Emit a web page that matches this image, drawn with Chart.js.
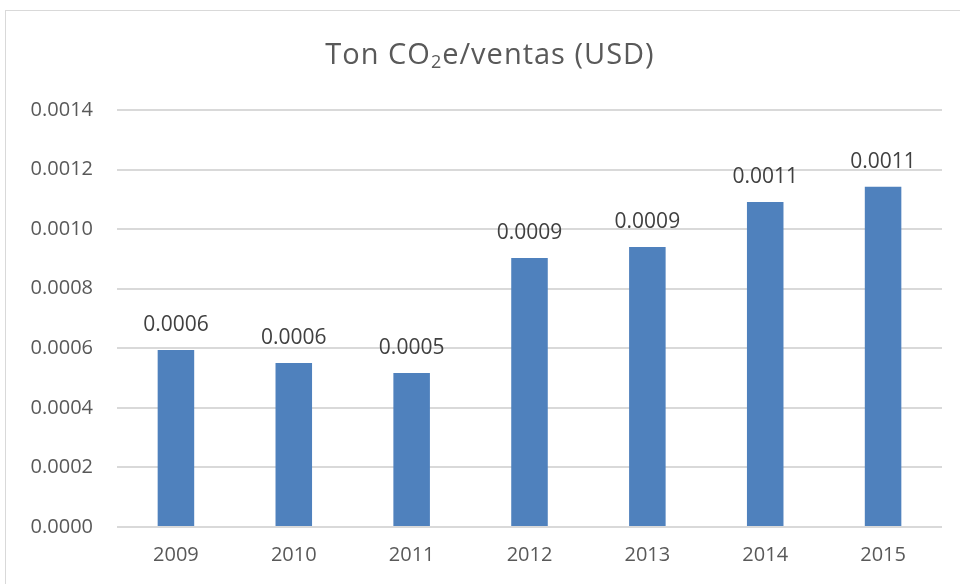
<!DOCTYPE html>
<html>
<head>
<meta charset="utf-8">
<script src="https://cdn.jsdelivr.net/npm/chart.js@4"></script>
<style>
html,body{margin:0;padding:0;background:#fff;overflow:hidden;}
#wrap{position:relative;width:960px;height:584px;}
#frame{position:absolute;left:5px;top:10px;width:1000px;height:700px;border:1px solid #d9d9d9;box-sizing:border-box;}
canvas{position:absolute;left:0;top:0;}
</style>
</head>
<body>
<div id="wrap">
<div id="frame"></div>
<canvas id="c" width="960" height="584"></canvas>
</div>
<script>
// Title parts: [text, isSubscript]
const titleParts = [['Ton CO', false], ['2', true], ['e/ventas (USD)', false]];
const categories = ['2009','2010','2011','2012','2013','2014','2015'];
const values = [0.000594, 0.000551, 0.000517, 0.000903, 0.000940, 0.001091, 0.001142];
const yMin = 0;
const yMax = 0.0014;
const yStep = 0.0002;

const FONT = "'Open Sans', 'DejaVu Sans', sans-serif";

const dataLabels = {
  id: 'dataLabels',
  afterDatasetsDraw(chart) {
    const ctx = chart.ctx;
    const meta = chart.getDatasetMeta(0);
    ctx.save();
    ctx.font = '21px ' + FONT;
    ctx.fillStyle = '#404040';
    ctx.textAlign = 'center';
    ctx.textBaseline = 'alphabetic';
    meta.data.forEach((bar, i) => {
      const v = chart.data.datasets[0].data[i];
      ctx.fillText(v.toFixed(4), bar.x, bar.y - 19);
    });
    ctx.restore();
  }
};

const richTitle = {
  id: 'richTitle',
  afterDraw(chart) {
    const ctx = chart.ctx;
    ctx.save();
    ctx.fillStyle = '#595959';
    ctx.textBaseline = 'alphabetic';
    ctx.textAlign = 'left';
    const mainFont = '29px ' + FONT;
    const subFont = '18px ' + FONT;
    const spacing = 1;
    const widths = titleParts.map(([t, sub]) => {
      ctx.font = sub ? subFont : mainFont;
      return ctx.measureText(t).width + t.length * spacing;
    });
    const total = widths.reduce((a, b) => a + b, 0);
    let x = 490 - total / 2;
    const baseline = 64;
    titleParts.forEach(([t, sub], i) => {
      ctx.font = sub ? subFont : mainFont;
      for (const ch of t) {
        ctx.fillText(ch, x, sub ? baseline + 4 : baseline);
        x += ctx.measureText(ch).width + spacing;
      }
    });
    ctx.restore();
  }
};

new Chart(document.getElementById('c'), {
  type: 'bar',
  data: {
    labels: categories,
    datasets: [{
      data: values,
      backgroundColor: '#4F81BD',
      borderWidth: 0,
      barPercentage: 0.31,
      categoryPercentage: 1.0
    }]
  },
  options: {
    responsive: false,
    animation: false,
    devicePixelRatio: 1,
    layout: { padding: { left: 0, right: 18, top: 110, bottom: 0 } },
    plugins: {
      legend: { display: false },
      tooltip: { enabled: false },
      title: { display: false }
    },
    scales: {
      x: {
        grid: { display: false, drawTicks: false },
        border: { display: false },
        ticks: { color: '#595959', font: { family: FONT, size: 20 }, padding: 16 },
        afterFit(scale) { scale.height = 57; }
      },
      y: {
        min: yMin,
        max: yMax,
        grid: { color: '#d9d9d9', lineWidth: 2, drawTicks: false },
        border: { display: false },
        ticks: {
          stepSize: yStep,
          color: '#595959',
          font: { family: FONT, size: 20 },
          padding: 24,
          callback: v => Number(v).toFixed(4)
        },
        afterFit(scale) { scale.width = 117; }
      }
    }
  },
  plugins: [dataLabels, richTitle]
});
</script>
</body>
</html>
